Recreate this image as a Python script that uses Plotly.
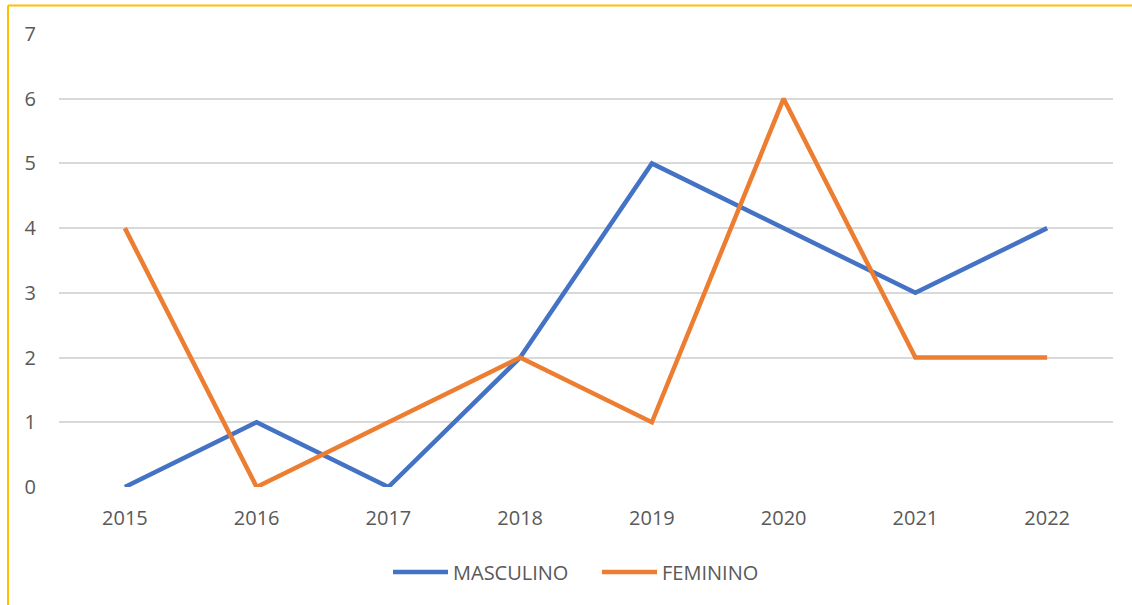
import plotly.graph_objects as go

years = ["2015", "2016", "2017", "2018", "2019", "2020", "2021", "2022"]
masculino = [0, 1, 0, 2, 5, 4, 3, 4]
feminino = [4, 0, 1, 2, 1, 6, 2, 2]
y_ticks = [0, 1, 2, 3, 4, 5, 6, 7]

series = [("MASCULINO", masculino, "#4472C4"), ("FEMININO", feminino, "#ED7D31")]

font_family = "'Open Sans', 'Noto Sans', sans-serif"

# plot area in pixels
L, R, T, B = 59, 1113, 34, 487
W, H = R - L, B - T


def px(x):
    return (x - L) / W


def py(y):
    return (B - y) / H


fig = go.Figure()
for name, vals, color in series:
    fig.add_trace(go.Scatter(x=years, y=vals, mode="lines", name=name,
                             line=dict(color=color, width=4.5), showlegend=False))

fig.update_layout(
    width=1132, height=605,
    margin=dict(l=L, r=1132 - R, t=T, b=605 - B, autoexpand=False),
    paper_bgcolor="white", plot_bgcolor="white",
    font=dict(family=font_family, size=20, color="#595959"),
    xaxis=dict(type="category", range=[-0.5, 7.5], showgrid=False, automargin=False,
               showline=False, ticks="", ticklabelstandoff=17,
               tickfont=dict(size=20, color="#595959")),
    yaxis=dict(range=[0, 7], tickvals=y_ticks, showgrid=True, gridcolor="#D9D9D9",
               gridwidth=1.5, zeroline=False, showline=False, ticks="", automargin=False,
               ticklabelstandoff=22, tickfont=dict(size=20, color="#595959")),
    showlegend=False,
)

# legend drawn by hand (line sample + label)
legend_x = [393, 602]
for (name, vals, color), lx in zip(series, legend_x):
    fig.add_shape(type="line", xref="paper", yref="paper",
                  x0=px(lx), x1=px(lx + 55), y0=py(572), y1=py(572),
                  line=dict(color=color, width=4.5))
    fig.add_annotation(xref="paper", yref="paper", x=px(lx + 58), y=py(572),
                       text=name, showarrow=False, xanchor="left", yanchor="middle",
                       font=dict(size=20, color="#595959"))

# yellow frame edges (top and left)
fig.add_shape(type="line", xref="paper", yref="paper",
              x0=px(8), x1=px(1132), y0=py(5.5), y1=py(5.5),
              line=dict(color="#FFC000", width=2))
fig.add_shape(type="line", xref="paper", yref="paper",
              x0=px(8), x1=px(8), y0=py(5.5), y1=py(610),
              line=dict(color="#FFC000", width=2))

fig.write_html("out.html", config={"displayModeBar": False},
               post_script="document.body.style.margin='0';document.body.style.overflow='hidden';")
